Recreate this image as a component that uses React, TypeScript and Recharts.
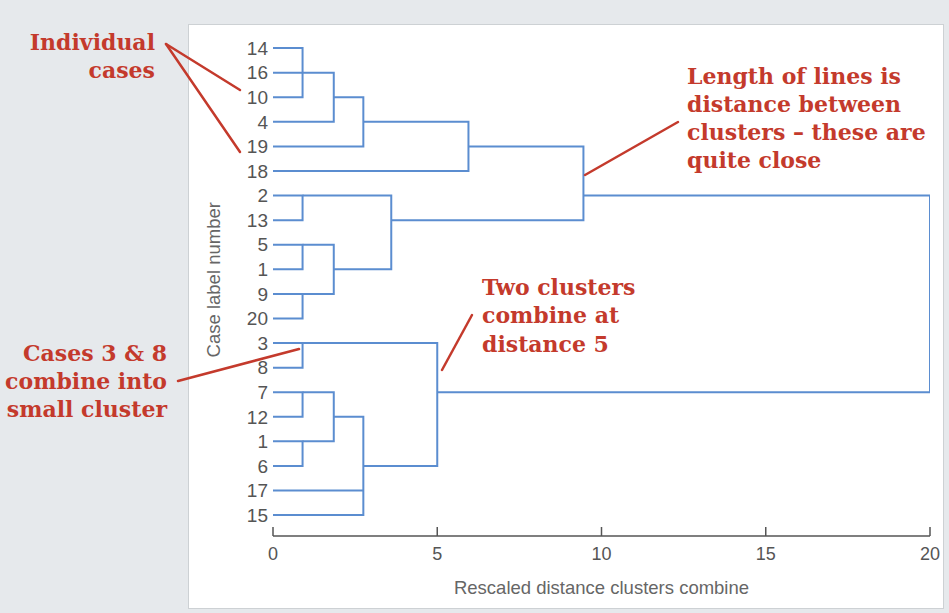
import React from "react";
import { ScatterChart, Scatter, XAxis, YAxis } from "recharts";

// leaf order top to bottom (row 0 .. 19)
const LEAF_LABELS = [
  "14", "16", "10", "4", "19", "18", "2", "13", "5", "1",
  "9", "20", "3", "8", "7", "12", "1", "6", "17", "15",
];

// each merge: rows that join, distance each child line starts at, distance they join at
const MERGE_ROWS: number[][] = [
  [0, 2], [1, 3], [2, 4], [3, 5],
  [6, 7], [8, 9], [10, 11], [8, 10], [6, 9], [4, 7],
  [12, 13], [14, 15], [16, 17], [14, 16], [15, 18, 19], [12, 17],
  [6, 14],
];
const MERGE_FROM: number[][] = [
  [0, 0], [0, 0], [1.85, 0], [2.75, 0],
  [0, 0], [0, 0], [0, 0], [0.9, 0.9], [0.9, 1.85], [5.95, 3.6],
  [0, 0], [0, 0], [0, 0], [0.9, 0.9], [1.85, 0, 0], [0.9, 2.75],
  [9.45, 5],
];
const MERGE_AT = [
  0.9, 1.85, 2.75, 5.95,
  0.9, 0.9, 0.9, 1.85, 3.6, 9.45,
  0.9, 0.9, 0.9, 1.85, 2.75, 5,
  20,
];

const X_TICKS = [0, 5, 10, 15, 20];
const ROWS = LEAF_LABELS.map((_, i) => i);

const BLUE = "#5b8dd0";
const RED = "#c43a2c";
const AXIS_GREY = "#555";
const SERIF = "'DejaVu Serif', serif";
const SANS = "'Liberation Sans', Arial, sans-serif";

type Pt = { x: number; y: number };

// turn merges into polylines (one bracket per merge, plus extra stubs for 3-way joins)
function buildSegments(): Pt[][] {
  const out: Pt[][] = [];
  MERGE_ROWS.forEach((rows, i) => {
    const from = MERGE_FROM[i];
    const at = MERGE_AT[i];
    const last = rows.length - 1;
    out.push([
      { x: from[0], y: rows[0] },
      { x: at, y: rows[0] },
      { x: at, y: rows[last] },
      { x: from[last], y: rows[last] },
    ]);
    for (let k = 1; k < last; k++) {
      out.push([
        { x: from[k], y: rows[k] },
        { x: at, y: rows[k] },
      ]);
    }
  });
  return out;
}

const segments = buildSegments();

function XTick(props: any) {
  const { x, y, payload } = props;
  return (
    <g>
      <line x1={x} x2={x} y1={y - 9} y2={y} stroke={AXIS_GREY} strokeWidth={1.5} />
      <text x={x} y={y + 11} dy="0.71em" textAnchor="middle" fill={AXIS_GREY} fontSize={18} fontFamily={SANS}>
        {payload.value}
      </text>
    </g>
  );
}

const noDot = () => <g />;

function Annotations() {
  const t = { fill: RED, fontFamily: SERIF, fontWeight: 700, fontSize: 22 } as const;
  return (
    <svg width={949} height={613} style={{ position: "absolute", left: 0, top: 0, pointerEvents: "none" }}>
      <g stroke={RED} strokeWidth={2.5} strokeLinecap="round">
        <line x1={166} y1={44} x2={240} y2={90} />
        <line x1={166} y1={44} x2={240} y2={152} />
        <line x1={178} y1={381} x2={299} y2={349} />
        <line x1={442} y1={370} x2={472} y2={315} />
        <line x1={585} y1={175} x2={678} y2={122} />
      </g>
      <text {...t} textAnchor="end">
        <tspan x={155} y={50}>Individual</tspan>
        <tspan x={155} y={78}>cases</tspan>
      </text>
      <text {...t} textAnchor="end">
        <tspan x={167} y={361}>Cases 3 &amp; 8</tspan>
        <tspan x={167} y={389}>combine into</tspan>
        <tspan x={167} y={417}>small cluster</tspan>
      </text>
      <text {...t}>
        <tspan x={482} y={295}>Two clusters</tspan>
        <tspan x={482} y={323}>combine at</tspan>
        <tspan x={482} y={352}>distance 5</tspan>
      </text>
      <text {...t}>
        <tspan x={687} y={84}>Length of lines is</tspan>
        <tspan x={687} y={112}>distance between</tspan>
        <tspan x={687} y={140}>clusters – these are</tspan>
        <tspan x={687} y={168}>quite close</tspan>
      </text>
    </svg>
  );
}

export default function App() {
  return (
    <div style={{ position: "absolute", left: 0, top: 0, width: 949, height: 613, background: "#e6e9ec", overflow: "hidden" }}>
      <div
        style={{
          position: "absolute",
          left: 188,
          top: 24,
          width: 756,
          height: 585,
          background: "#fff",
          border: "1px solid #cdd1d4",
          boxSizing: "border-box",
        }}
      />
      <div style={{ position: "absolute", left: 0, top: 0 }}>
        <ScatterChart width={949} height={613} margin={{ top: 23.5, right: 19, bottom: 17, left: 213 }}>
          <XAxis
            type="number"
            dataKey="x"
            domain={[0, 20]}
            ticks={X_TICKS}
            allowDataOverflow
            height={60}
            tickLine={false}
            tickSize={0}
            tickMargin={0}
            axisLine={{ stroke: AXIS_GREY, strokeWidth: 1.5 }}
            tick={<XTick />}
            label={{
              value: "Rescaled distance clusters combine",
              position: "insideBottom",
              offset: 2,
              fill: "#666",
              fontSize: 18.5,
              fontFamily: SANS,
            }}
          />
          <YAxis
            type="number"
            dataKey="y"
            domain={[-1, 19.85]}
            reversed
            ticks={ROWS}
            interval={0}
            allowDataOverflow
            width={60}
            tickLine={false}
            axisLine={false}
            tickSize={0}
            tickMargin={5}
            tickFormatter={(v: number) => LEAF_LABELS[v] ?? ""}
            tick={{ fill: AXIS_GREY, fontSize: 19, fontFamily: SANS }}
            label={{
              value: "Case label number",
              angle: -90,
              position: "insideLeft",
              offset: 0,
              fill: "#666",
              fontSize: 18.5,
              fontFamily: SANS,
              style: { textAnchor: "middle" },
            }}
          />
          {segments.map((pts, i) => (
            <Scatter
              key={i}
              data={pts}
              line={{ stroke: BLUE, strokeWidth: 2 }}
              shape={noDot}
              legendType="none"
              isAnimationActive={false}
            />
          ))}
        </ScatterChart>
      </div>
      <Annotations />
    </div>
  );
}
